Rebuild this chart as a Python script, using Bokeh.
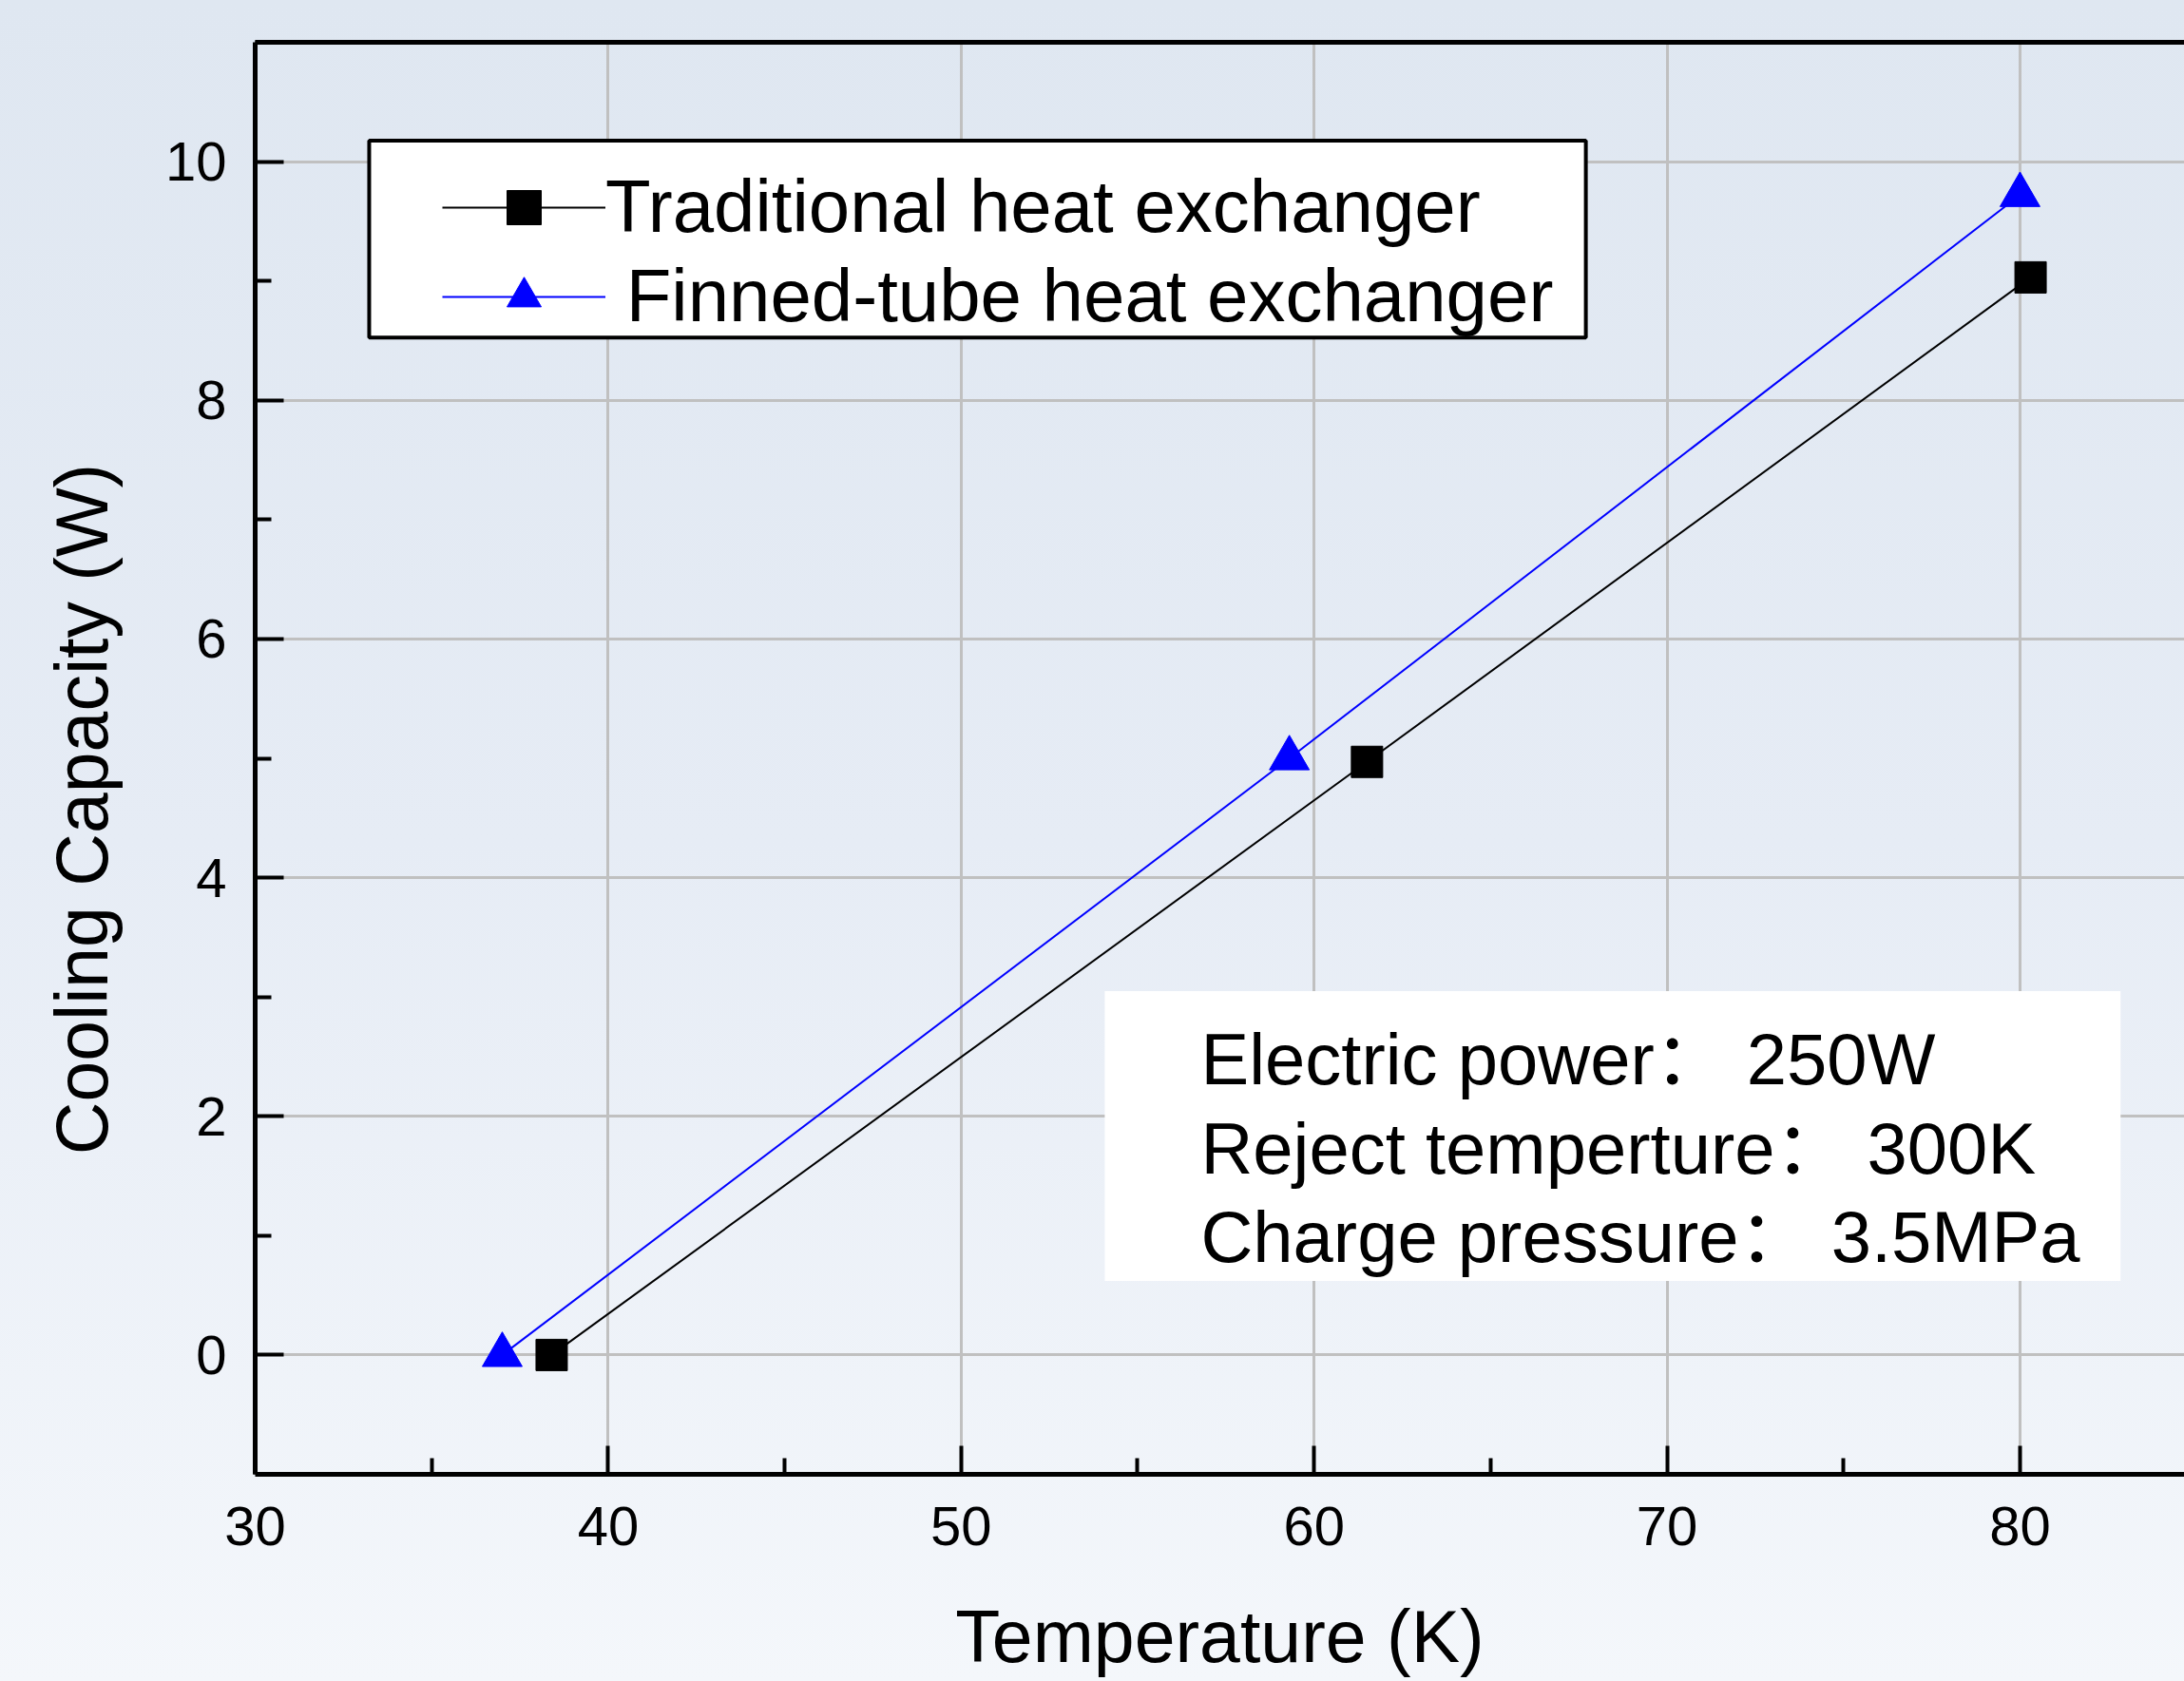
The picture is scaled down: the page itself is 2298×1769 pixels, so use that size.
from bokeh.plotting import figure
from bokeh.models import (Legend, LegendItem, LinearAxis, FixedTicker, BoxAnnotation,
                          Label, Range1d)
from bokeh.embed import file_html
from bokeh.resources import INLINE

# ---- data ----
trad_temp = [38.4, 61.5, 80.3]
trad_cap = [0.0, 4.97, 9.03]
fin_temp = [37.0, 59.3, 80.0]
fin_cap = [0.0, 5.0, 9.72]
x_ticks = [30, 40, 50, 60, 70, 80]
y_ticks = [0, 2, 4, 6, 8, 10]
legend_labels = ["Traditional heat exchanger", "\u00a0Finned-tube heat exchanger"]
info_lines = ["Electric power\uff1a 250W",
              "Reject temperture\uff1a 300K",
              "Charge pressure\uff1a 3.5MPa"]
info_y = [2.48, 1.73, 0.99]

FONT = "'Liberation Sans', 'Noto Sans CJK SC'"
W, H = 2298, 1769

p = figure(width=W, height=H, output_backend="svg", toolbar_location=None,
           x_range=Range1d(30, 84.66), y_range=Range1d(-1, 11),
           min_border_left=268, min_border_right=0, min_border_top=44,
           min_border_bottom=218,
           x_axis_label="Temperature (K)",
           y_axis_label="Cooling Capacity (W)" + "\u00a0" * 5)
p.background_fill_alpha = 0
p.border_fill_alpha = 0
p.outline_line_color = None
p.styles = {"background": "linear-gradient(to bottom, #dfe7f1 0%, #e6ecf5 50%, #f4f7fb 100%)"}

p.xaxis.ticker = FixedTicker(ticks=x_ticks, minor_ticks=[t + 5 for t in x_ticks])
p.yaxis.ticker = FixedTicker(ticks=y_ticks, minor_ticks=[t + 1 for t in y_ticks])
for ax in (p.xaxis[0], p.yaxis[0]):
    ax.axis_line_width = 5
    ax.axis_line_color = "black"
    ax.major_tick_in = 30
    ax.major_tick_out = 0
    ax.minor_tick_in = 17
    ax.minor_tick_out = 0
    ax.major_tick_line_width = 4
    ax.minor_tick_line_width = 4
    ax.major_tick_line_color = "black"
    ax.minor_tick_line_color = "black"
    ax.major_label_text_font = "Liberation Sans"
    ax.major_label_text_font_size = "58px"
    ax.major_label_text_color = "black"
    ax.axis_label_text_font = "Liberation Sans"
    ax.axis_label_text_font_size = "77px"
    ax.axis_label_text_font_style = "normal"
    ax.axis_label_text_color = "black"
p.xaxis.major_label_standoff = 34
p.xaxis.axis_label_standoff = 50
p.yaxis.major_label_standoff = 30
p.yaxis.axis_label_standoff = 42

top = LinearAxis(ticker=FixedTicker(ticks=[]), axis_line_width=5, axis_line_color="black",
                 major_label_text_font_size="0px", major_tick_out=0, major_tick_in=0,
                 minor_tick_out=0, minor_tick_in=0, major_label_standoff=0)
p.add_layout(top, "above")

p.xgrid.ticker = FixedTicker(ticks=x_ticks)
p.ygrid.ticker = FixedTicker(ticks=y_ticks)
for g in (p.xgrid[0], p.ygrid[0]):
    g.grid_line_color = "#c0c0c0"
    g.grid_line_width = 3

r_trad_line = p.line(trad_temp, trad_cap, line_color="black", line_width=2)
r_trad_pts = p.scatter(trad_temp, trad_cap, marker="square", size=33,
                       fill_color="black", line_color="black")
r_fin_line = p.line(fin_temp, fin_cap, line_color="blue", line_width=2)
r_fin_pts = p.scatter(fin_temp, fin_cap, marker="triangle", size=42,
                      fill_color="blue", line_color="blue")

# legend frame and info box
p.add_layout(BoxAnnotation(left=33.23, right=67.70, top=10.175, bottom=8.526,
                           fill_color="white", fill_alpha=1, line_color="black",
                           line_width=4, line_alpha=1))
p.add_layout(BoxAnnotation(left=54.07, right=82.85, top=3.05, bottom=0.62,
                           fill_color="white", fill_alpha=1, line_color=None))

legend = Legend(items=[LegendItem(label=legend_labels[0], renderers=[r_trad_line, r_trad_pts]),
                       LegendItem(label=legend_labels[1], renderers=[r_fin_line, r_fin_pts])],
                location=(197, 1194), glyph_width=172, glyph_height=90,
                label_text_font="Liberation Sans", label_text_font_size="78px",
                label_text_color="black", padding=10, spacing=3, label_standoff=0,
                background_fill_alpha=0, border_line_color=None, margin=0)
p.add_layout(legend)

for txt, yy in zip(info_lines, info_y):
    p.add_layout(Label(x=56.79, y=yy, text=txt, text_font=FONT, text_font_size="76px",
                       text_color="black", text_baseline="middle", text_align="left"))

open("out.html", "w").write(file_html(p, INLINE))
